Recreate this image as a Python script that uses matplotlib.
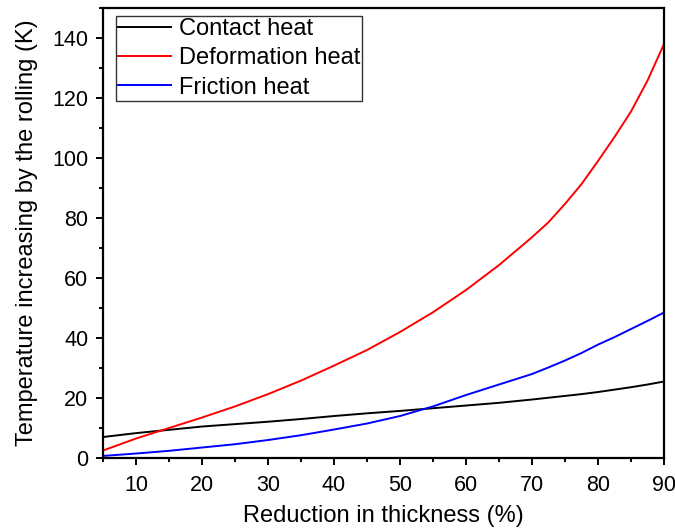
import numpy as np
import matplotlib
matplotlib.use("Agg")
import matplotlib.pyplot as plt
from matplotlib.ticker import MultipleLocator

plt.rcParams["font.family"] = ["Liberation Sans", "DejaVu Sans"]

# values (temperature rise in K)
reduction = [5, 10, 15, 20, 25, 30, 35, 40, 45, 50, 55, 60, 65, 70, 72.5, 75, 77.5, 80, 82.5, 85, 87.5, 90]
contact_heat = [7.0, 8.3, 9.4, 10.5, 11.3, 12.1, 13.0, 14.0, 14.9, 15.7, 16.6, 17.5, 18.4, 19.5, 20.1, 20.7, 21.3, 22.0, 22.8, 23.6, 24.5, 25.5]
deformation_heat = [2.5, 6.5, 10.0, 13.5, 17.2, 21.3, 25.8, 30.8, 36.0, 42.0, 48.6, 56.0, 64.3, 73.6, 78.6, 84.7, 91.3, 99.0, 107.0, 115.5, 125.8, 138.0]
friction_heat = [0.7, 1.5, 2.4, 3.5, 4.6, 6.0, 7.6, 9.5, 11.5, 14.0, 17.2, 21.0, 24.5, 28.0, 30.2, 32.5, 35.0, 37.8, 40.3, 43.0, 45.7, 48.5]

fig = plt.figure(figsize=(6.75, 5.3), dpi=100)
ax = fig.add_axes([0.1526, 0.1358, 0.8311, 0.8491])

ax.plot(reduction, contact_heat, color="black", lw=1.4, label="Contact heat")
ax.plot(reduction, deformation_heat, color="red", lw=1.4, label="Deformation heat")
ax.plot(reduction, friction_heat, color="blue", lw=1.4, label="Friction heat")

ax.set_xlim(5, 90)
ax.set_ylim(0, 150)
ax.xaxis.set_major_locator(MultipleLocator(10))
ax.xaxis.set_minor_locator(MultipleLocator(5))
ax.yaxis.set_major_locator(MultipleLocator(20))
ax.yaxis.set_minor_locator(MultipleLocator(10))
ax.tick_params(which="both", direction="out", top=False, right=False, labelsize=15.5, width=1.4)
ax.tick_params(which="major", length=5)
ax.tick_params(which="minor", length=3)
ax.tick_params(axis="x", which="both", pad=7)
ax.tick_params(axis="y", which="both", pad=5.5)
for s in ax.spines.values():
    s.set_linewidth(1.6)

ax.set_xlabel("Reduction in thickness (%)", fontsize=17, labelpad=7)
ax.set_ylabel("Temperature increasing by the rolling (K)", fontsize=17, labelpad=10)

leg = ax.legend(loc="upper left", bbox_to_anchor=(13 / 561, 1 - 8 / 450), borderaxespad=0,
                fontsize=17, fancybox=False, edgecolor="black",
                handlelength=2.25, handletextpad=0.3, borderpad=0.1, labelspacing=0.3)
leg.get_frame().set_linewidth(1.0)

fig.savefig("out.png", dpi=100)
